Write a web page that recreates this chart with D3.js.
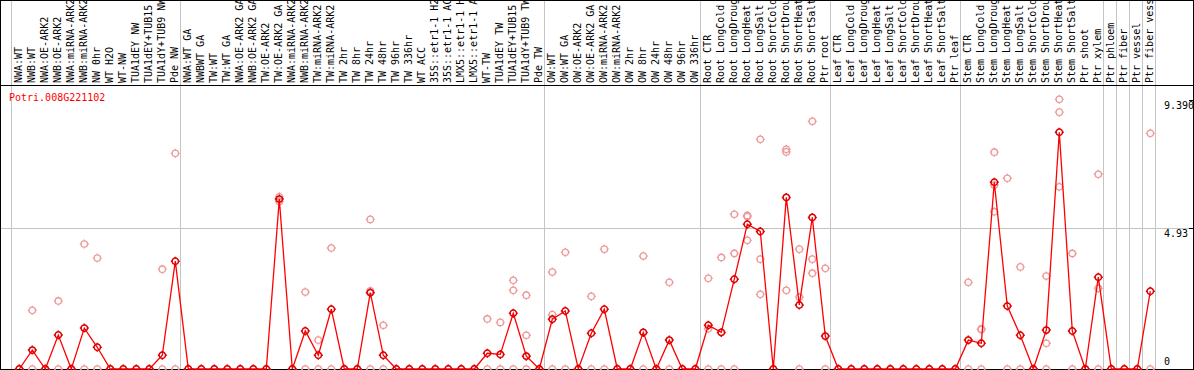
<!DOCTYPE html>
<meta charset="utf-8">
<style>
body { margin: 0; background: #fff; }
svg text { font-family: "DejaVu Sans Mono", monospace; font-size: 10px; }
.grid { stroke: #c4c4c4; stroke-width: 1px; shape-rendering: crispEdges; }
.frame { stroke: #000; stroke-width: 1px; fill: none; shape-rendering: crispEdges; }
.line { fill: none; stroke: #ff0000; stroke-width: 1.3px; }
.rep { fill: none; stroke: #ee9a9a; stroke-width: 1.3px; }
.mean { fill: none; stroke: #e00000; stroke-width: 1.5px; }
</style>
<body>
<svg width="1194" height="370"></svg>
<script src="https://d3js.org/d3.v7.min.js"></script>
<script>
var geneName = "Potri.008G221102";

var samples = [
  "NWA:WT", "NWB:WT", "NWA:OE-ARK2", "NWB:OE-ARK2", "NWA:miRNA-ARK2", "NWB:miRNA-ARK2",
  "NW 0hr", "WT H2O", "WT-NW", "TUA1dEY NW", "TUA1dEY+TUB15", "TUA1dY+TUB9 NW", "Pde NW",
  "NWA:WT GA", "NWBWT GA", "TW:WT", "TW:WT GA", "NWA:OE-ARK2 GA", "NWB:OE-ARK2 GA",
  "TW:OE-ARK2", "TW:OE-ARK2 GA", "NWA:miRNA-ARK2", "NWB:miRNA-ARK2", "TW:miRNA-ARK2",
  "TW:miRNA-ARK2", "TW 2hr", "TW 8hr", "TW 24hr", "TW 48hr", "TW 96hr", "TW 336hr",
  "WT ACC", "35S::etr1-1 H2", "35S::etr1-1 AC", "LMX5::etr1-1 H", "LMX5::etr1-1 A",
  "WT-TW", "TUA1dEY TW", "TUA1dEY+TUB15", "TUA1dY+TUB9 TW", "Pde TW",
  "OW:WT", "OW:WT GA", "OW:OE-ARK2", "OW:OE-ARK2 GA", "OW:miRNA-ARK2", "OW:miRNA-ARK2",
  "OW 2hr", "OW 8hr", "OW 24hr", "OW 48hr", "OW 96hr", "OW 336hr",
  "Root CTR", "Root LongCold", "Root LongDroug", "Root LongHeat", "Root LongSalt",
  "Root ShortCold", "Root ShortDrou", "Root ShortHeat", "Root ShortSalt", "Ptr root",
  "Leaf CTR", "Leaf LongCold", "Leaf LongDroug", "Leaf LongHeat", "Leaf LongSalt",
  "Leaf ShortCold", "Leaf ShortDrou", "Leaf ShortHeat", "Leaf ShortSalt", "Ptr leaf",
  "Stem CTR", "Stem LongCold", "Stem LongDroug", "Stem LongHeat", "Stem LongSalt",
  "Stem ShortCold", "Stem ShortDrou", "Stem ShortHeat", "Stem ShortSalt", "Ptr shoot",
  "Ptr xylem", "Ptr phloem", "Ptr fiber", "Ptr vessel", "Ptr fiber vess"
];

// first sample index of each group (last entry = end)
var groupStarts = [0, 13, 41, 53, 63, 73, 84, 85, 86, 87, 88];

var meanValues = [
  0, 0.66, 0, 1.19, 0, 1.43, 0.76, 0, 0, 0, 0, 0.48, 3.77,
  0, 0, 0, 0, 0, 0, 0, 5.94, 0, 1.33, 0.48, 2.09, 0, 0, 2.67, 0.48,
  0, 0, 0, 0, 0, 0, 0, 0.55, 0.51, 1.95, 0.45, 0,
  1.74, 2.03, 0, 1.25, 2.09, 0, 0, 1.28, 0, 1.01, 0, 0,
  1.53, 1.28, 3.14, 5.06, 4.81, 0, 6.00, 2.24, 5.30, 1.15,
  0, 0, 0, 0, 0, 0, 0, 0, 0, 0,
  1.01, 0.90, 6.53, 2.20, 1.18, 0, 1.36, 8.28, 1.33, 0, 3.21,
  0, 0, 0, 2.72
];

var replicateValues = [
  [0], [2.05, 0], [0], [2.38, 0], [0], [4.37, 0], [3.88, 0], [0], [0], [0], [0], [3.49, 0], [7.54, 0],
  [0], [0], [0], [0], [0], [0], [0], [6.02, 5.86], [0], [2.69, 0], [1.01, 0], [4.23, 0], [0], [0],
  [5.23, 2.73, 0], [1.53, 0],
  [0], [0], [0], [0], [0], [0], [0], [1.75, 0], [1.63, 0], [3.10, 2.75, 0], [2.58, 1.18, 0], [0],
  [3.39, 1.90, 0], [4.08, 0], [0], [2.54, 0], [4.19, 0], [0], [0], [3.95, 0], [0], [3.03, 0], [0], [0],
  [3.17, 1.41, 0], [3.90, 0], [5.41, 4.04, 0], [5.37, 5.33, 4.50], [8.03, 3.84, 2.61], [0],
  [7.68, 7.59, 2.75], [4.19, 2.51, 0], [8.66, 3.84, 3.35], [3.52, 0],
  [0], [0], [0], [0], [0], [0], [0], [0], [0], [0],
  [3.03, 0], [1.38, 1.40, 0], [7.58, 6.43, 5.50], [6.67, 0], [3.57, 0], [0], [3.25, 0.90, 0],
  [9.43, 8.98, 6.37], [4.04, 0], [0], [6.81, 2.82, 0],
  [0], [0], [0], [8.24, 0]
];

var yTicks = [9.39, 4.93, 0];
var yTickLabels = ["9.390", "4.93", "0"];

var svg = d3.select("svg"),
    W = +svg.attr("width"),
    H = +svg.attr("height"),
    labelBottom = 85,
    plotBottom = 369;

var x = d3.scaleLinear().domain([0, samples.length - 1]).range([19.3, 1150.3]);
var y = d3.scaleLinear().domain([0, 9.86]).range([plotBottom, 87]);
var step = x(1) - x(0);

// vertical group separators
svg.append("g").selectAll("line")
  .data(groupStarts)
  .enter().append("line")
    .attr("class", "grid")
    .attr("x1", function(d) { return Math.round(x(d) - 8.5) + 0.5; })
    .attr("x2", function(d) { return Math.round(x(d) - 8.5) + 0.5; })
    .attr("y1", 0)
    .attr("y2", plotBottom);

// horizontal mid gridline
svg.append("line")
    .attr("class", "grid")
    .attr("x1", 0).attr("x2", W - 1)
    .attr("y1", Math.round(y(4.93)) + 0.5)
    .attr("y2", Math.round(y(4.93)) + 0.5);

// sample labels
svg.append("g").selectAll("text")
  .data(samples)
  .enter().append("text")
    .attr("transform", function(d, i) { return "translate(" + (x(i) + 3) + "," + (labelBottom - 2) + ") rotate(-90)"; })
    .attr("fill", "#000")
    .text(function(d) { return d; });

// frame
svg.append("rect").attr("class", "frame")
    .attr("x", 0.5).attr("y", 0.5).attr("width", W - 1.5).attr("height", plotBottom - 0.5);
svg.append("line").attr("class", "frame")
    .attr("x1", 0).attr("x2", W).attr("y1", labelBottom + 0.5).attr("y2", labelBottom + 0.5);

// right axis ticks
var ticks = svg.append("g");
yTicks.forEach(function(v, k) {
  ticks.append("line").attr("class", "frame")
      .attr("x1", W - 5).attr("x2", W - 1)
      .attr("y1", Math.round(y(v)) + 0.5).attr("y2", Math.round(y(v)) + 0.5);
  ticks.append("text")
      .attr("x", 1164)
      .attr("y", v === 0 ? y(v) - 4 : y(v) + 8.8)
      .attr("fill", "#000")
      .text(yTickLabels[k]);
});

function marker(sel, r) {
  sel.append("circle").attr("r", r);
  sel.append("path").attr("d",
    "M0," + (-r - 1.3) + "V" + (-r) +
    "M0," + r + "V" + (r + 1.3) +
    "M" + (-r - 1.3) + ",0H" + (-r) +
    "M" + r + ",0H" + (r + 1.3));
}

// replicate points
var reps = [];
replicateValues.forEach(function(arr, i) {
  arr.forEach(function(v) { reps.push({i: i, v: v}); });
});
svg.append("g").attr("class", "rep").selectAll("g")
  .data(reps)
  .enter().append("g")
    .attr("transform", function(d) { return "translate(" + x(d.i) + "," + y(d.v) + ")"; })
    .each(function() { marker(d3.select(this), 3.2); });

// mean line
var line = d3.line()
    .x(function(d, i) { return x(i); })
    .y(function(d) { return y(d); });

svg.append("path")
    .datum(meanValues)
    .attr("class", "line")
    .attr("d", line);

svg.append("g").attr("class", "mean").selectAll("g")
  .data(meanValues)
  .enter().append("g")
    .attr("transform", function(d, i) { return "translate(" + x(i) + "," + y(d) + ")"; })
    .each(function() { marker(d3.select(this), 3.2); });

// gene name
svg.append("text")
    .attr("x", 9)
    .attr("y", 101)
    .attr("fill", "#ff0000")
    .text(geneName);
</script>
</body>
